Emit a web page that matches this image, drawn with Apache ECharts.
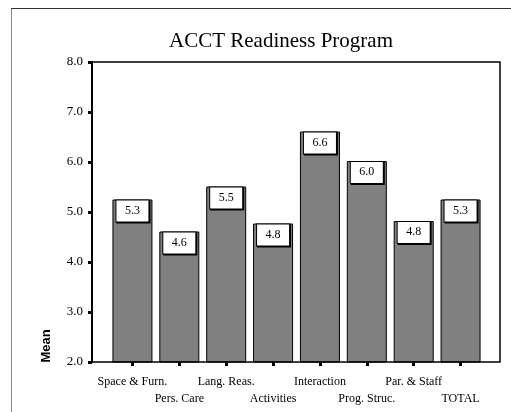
<!DOCTYPE html>
<html>
<head>
<meta charset="utf-8">
<script src="https://cdn.jsdelivr.net/npm/echarts@6/dist/echarts.min.js"></script>
<style>
  html, body { margin: 0; padding: 0; background: #fff; }
  #chart { width: 511px; height: 412px; }
</style>
</head>
<body>
<div id="chart"></div>
<script>
// Program areas and their mean scores
var categories = ['Space & Furn.', 'Pers. Care', 'Lang. Reas.', 'Activities',
                  'Interaction', 'Prog. Struc.', 'Par. & Staff', 'TOTAL'];
var means = [5.25, 4.61, 5.51, 4.77, 6.61, 6.02, 4.82, 5.25];
var yTicks = { min: 2, max: 8, step: 1 };

var chart = echarts.init(document.getElementById('chart'));
var serif = '"Liberation Serif", "Times New Roman", serif';

chart.setOption({
  animation: false,
  grid: { left: 109, right: 27, top: 62, bottom: 50 },
  xAxis: {
    type: 'category',
    data: categories,
    axisLine: { show: false },
    axisTick: { show: true, alignWithLabel: true, length: 4, lineStyle: { color: '#000', width: 3 } },
    axisLabel: {
      interval: 0, margin: 11, color: '#000', fontFamily: serif, fontSize: 12,
      formatter: function (v, i) { return i % 2 === 0 ? v : '\n' + v; },
      lineHeight: 17
    }
  },
  yAxis: {
    type: 'value',
    min: yTicks.min, max: yTicks.max, interval: yTicks.step,
    offset: 17,
    splitLine: { show: false },
    axisLine: { show: true, lineStyle: { color: '#000', width: 2 } },
    axisTick: { show: true, length: 4, lineStyle: { color: '#000', width: 3 } },
    axisLabel: {
      margin: 9, color: '#000', fontFamily: serif, fontSize: 13,
      formatter: function (v) { return v.toFixed(1); }
    }
  },
  graphic: [
    // outer chart border (left and top)
    { type: 'line', shape: { x1: 11.5, y1: 8, x2: 11.5, y2: 412 }, style: { stroke: '#888', lineWidth: 1 } },
    { type: 'line', shape: { x1: 11, y1: 8.5, x2: 511, y2: 8.5 }, style: { stroke: '#333', lineWidth: 1 } },
    // plot frame
    { type: 'rect', shape: { x: 92, y: 62, width: 408, height: 300 },
      style: { fill: 'none', stroke: '#000', lineWidth: 1.5 }, z: 10 },
    // chart title
    { type: 'text', x: 281, y: 41, z: 10,
      style: { text: 'ACCT Readiness Program', font: '21px ' + serif,
               fill: '#000', align: 'center', verticalAlign: 'middle' } },
    // y-axis title
    { type: 'text', x: 46, y: 346, rotation: Math.PI / 2, z: 10,
      style: { text: 'Mean', font: 'bold 13px "Liberation Sans", Arial, sans-serif',
               fill: '#000', align: 'center', verticalAlign: 'middle' } }
  ],
  series: [{
    type: 'bar',
    data: means,
    barWidth: 40,
    itemStyle: { color: '#808080', borderColor: '#000', borderWidth: 1 },
    label: {
      show: true, position: 'insideTop', distance: 1,
      formatter: function (p) { return p.value.toFixed(1); },
      fontFamily: serif, fontSize: 12, color: '#000',
      backgroundColor: '#fff', borderColor: '#000', borderWidth: 1,
      width: 32, height: 13, align: 'center', padding: [4, 0],
      shadowColor: '#000', shadowOffsetX: 1, shadowOffsetY: 1, shadowBlur: 0
    }
  }]
});
</script>
</body>
</html>
